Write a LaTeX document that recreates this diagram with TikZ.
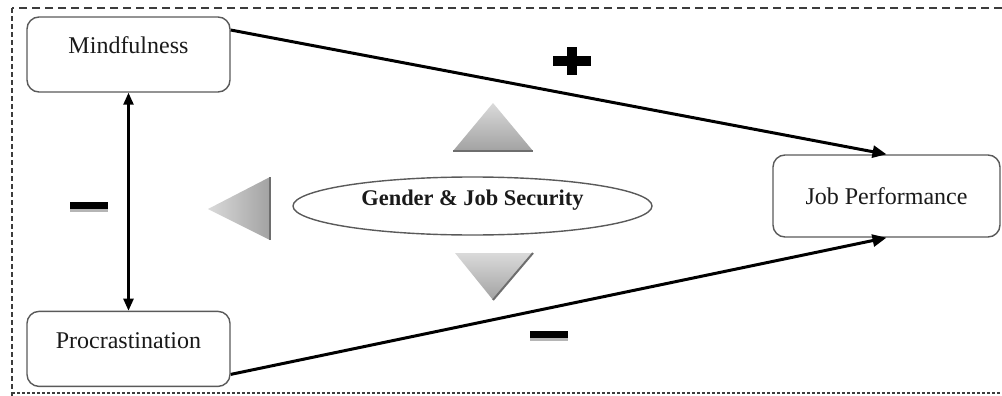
\documentclass[tikz,border=0pt]{standalone}
\usepackage{fontspec}
\setmainfont{Liberation Serif}
\usetikzlibrary{arrows.meta, positioning, shapes.geometric}
\definecolor{cBox}{HTML}{5A5A5A}
\definecolor{cTxt}{HTML}{1A1A1A}
\definecolor{cTriL}{HTML}{DADADA}
\definecolor{cTriD}{HTML}{A2A2A2}
\definecolor{cTriE}{HTML}{6E6E6E}
\definecolor{cFrm}{HTML}{3C3C3C}
\definecolor{cShd}{HTML}{B5B5B5}

\begin{document}
\begin{tikzpicture}[x=0.5pt, y=-0.5pt,
    nd/.style={rounded corners=6pt, draw=cBox, line width=0.7pt, fill=white,
               inner sep=0pt, font=\fontsize{12}{14}\selectfont, text=cTxt},
    nvar/.style={nd, minimum width=101.5pt, minimum height=37.5pt,
                 text height=8pt, text depth=8.5pt},
    nout/.style={nd, minimum width=113.5pt, minimum height=41pt},
    nmod/.style={ellipse, draw=cBox, line width=0.7pt, inner sep=0pt,
                 minimum width=179.5pt, minimum height=29pt,
                 text height=8pt, text depth=9pt, text=cTxt,
                 font=\fontsize{11.2}{13}\selectfont\bfseries},
    ar/.style={-{Triangle[length=7pt,width=6pt]}, line width=1.5pt},
    dar/.style={{Triangle[length=6pt,width=5pt]}-{Triangle[length=6pt,width=5pt]},
                line width=1.2pt},
    tri/.style={draw=none},
    edg/.style={cTriE, line width=1pt},
    sgn/.style={line width=3.5pt},
    shd/.style={cShd, line width=3pt},
    frm/.style={cFrm, line width=1pt},
]
\useasboundingbox (0,0) rectangle (1002,396);

% === frame ===
\draw[frm, dash pattern=on 4pt off 2.5pt] (1002,8) -- (12,8);
\draw[frm, dash pattern=on 2.5pt off 1.5pt] (12,8) -- (12,396);
\draw[frm, dash pattern=on 1.5pt off 1pt, line width=0.8pt] (12,393) -- (1002,393);

% === variables ===
\node[nvar] (mind) at (128.5,54.5) {Mindfulness};
\node[nvar, below=109pt of mind] (proc) {Procrastination};
\node[nout] (jp) at (886.5,196) {Job Performance};
\node[nmod] (mod) at (472.5,206) {Gender \& Job Security};

% === paths ===
\draw[ar] ([yshift=12.25pt]mind.east) -- (jp.north);
\draw[ar] ([yshift=-12.75pt]proc.east) -- (jp.south);
\draw[dar] (mind) -- (proc);

% === moderator triangles ===
\shade[tri, top color=cTriL, bottom color=cTriD] (493,103) -- (533,151) -- (453,151) -- cycle;
\draw[edg] (453,151) -- (533,151);
\shade[tri, left color=cTriL, right color=cTriD] (208,209) -- (270,177) -- (270,240) -- cycle;
\draw[edg] (270,177) -- (270,240);
\shade[tri, top color=cTriL, bottom color=cTriD] (455,253) -- (533,253) -- (493,300) -- cycle;
\draw[edg] (533,253) -- (493,300);

% === signs ===
\draw[sgn, line width=5pt] (553,61) -- (591,61) (572,47) -- (572,75);
\draw[shd] (70,209) -- (108,209);
\draw[sgn] (70,205.5) -- (108,205.5);
\draw[shd] (530,338) -- (568,338);
\draw[sgn] (530,334.5) -- (568,334.5);

\end{tikzpicture}
\end{document}
